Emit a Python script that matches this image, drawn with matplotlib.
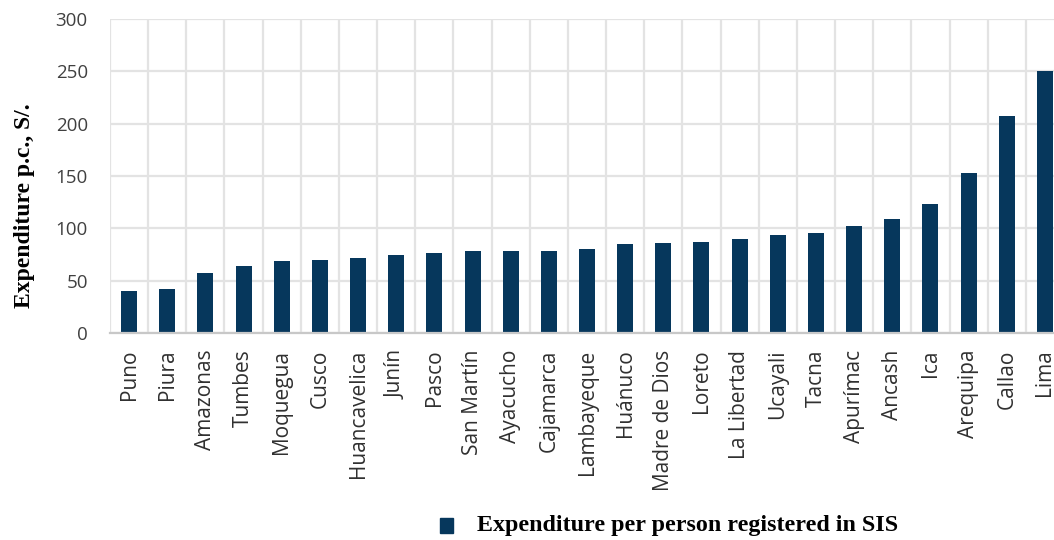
import matplotlib
matplotlib.use("Agg")
import matplotlib.pyplot as plt
import numpy as np

regions = ["Puno", "Piura", "Amazonas", "Tumbes", "Moquegua", "Cusco",
           "Huancavelica", "Junín", "Pasco", "San Martín", "Ayacucho",
           "Cajamarca", "Lambayeque", "Huánuco", "Madre de Dios", "Loreto",
           "La Libertad", "Ucayali", "Tacna", "Apurímac", "Ancash", "Ica",
           "Arequipa", "Callao", "Lima"]
spending = [40, 42, 57, 64, 69, 70, 72, 75, 76, 78, 78, 78, 80, 85, 86, 87,
            90, 94, 96, 102, 109, 123, 153, 207, 250]
y_ticks = [0, 50, 100, 150, 200, 250, 300]

bar_color = "#06375c"
grid_color = "#e3e3e3"

W, H = 1054, 540
fig = plt.figure(figsize=(W / 100, H / 100), dpi=100)
left, right, top, bottom = 110, 1064, 19, 333
ax = fig.add_axes([left / W, 1 - bottom / H, (right - left) / W, (bottom - top) / H])

x = np.arange(len(regions))
ax.bar(x, spending, width=0.42, color=bar_color, zorder=3)

ax.set_xlim(-0.5, len(regions) - 0.5)
ax.set_ylim(0, 300)
ax.set_yticks(y_ticks)
ax.set_xticks(x)
ax.set_xticklabels(regions, rotation=90, fontsize=15, family="Open Sans",
                   color="#303030")
ax.set_yticklabels([str(v) for v in y_ticks], fontsize=13.5, family="Open Sans",
                   color="#404040")

ax.set_xticks(np.arange(len(regions) + 1) - 0.5, minor=True)
ax.grid(True, axis="y", which="major", color=grid_color, linewidth=1.6, zorder=0)
ax.grid(True, axis="x", which="minor", color=grid_color, linewidth=1.6, zorder=0)
ax.grid(False, axis="x", which="major")
ax.tick_params(axis="both", which="both", length=0)
ax.tick_params(axis="x", pad=12)
ax.tick_params(axis="y", pad=16)

for side in ["top", "right", "left"]:
    ax.spines[side].set_visible(False)
ax.spines["bottom"].set_color("#c8c8c8")
ax.spines["bottom"].set_linewidth(1.6)
ax.spines["bottom"].set_zorder(4)

fig.text(25 / W, 1 - 206 / H, "Expenditure p.c., S/.", rotation=90,
         ha="center", va="center", family="Liberation Serif", weight="bold",
         fontsize=17, color="black")

# legend entry below the axis
fig.patches.append(plt.Rectangle((440 / W, 1 - 533 / H), 13 / W, 15 / H,
                                 transform=fig.transFigure, color=bar_color))
fig.text(477 / W, 1 - 526 / H, "Expenditure per person registered in SIS",
         ha="left", va="center", family="Liberation Serif", weight="bold",
         fontsize=17.3, color="black")

fig.savefig("out.png", dpi=100)
